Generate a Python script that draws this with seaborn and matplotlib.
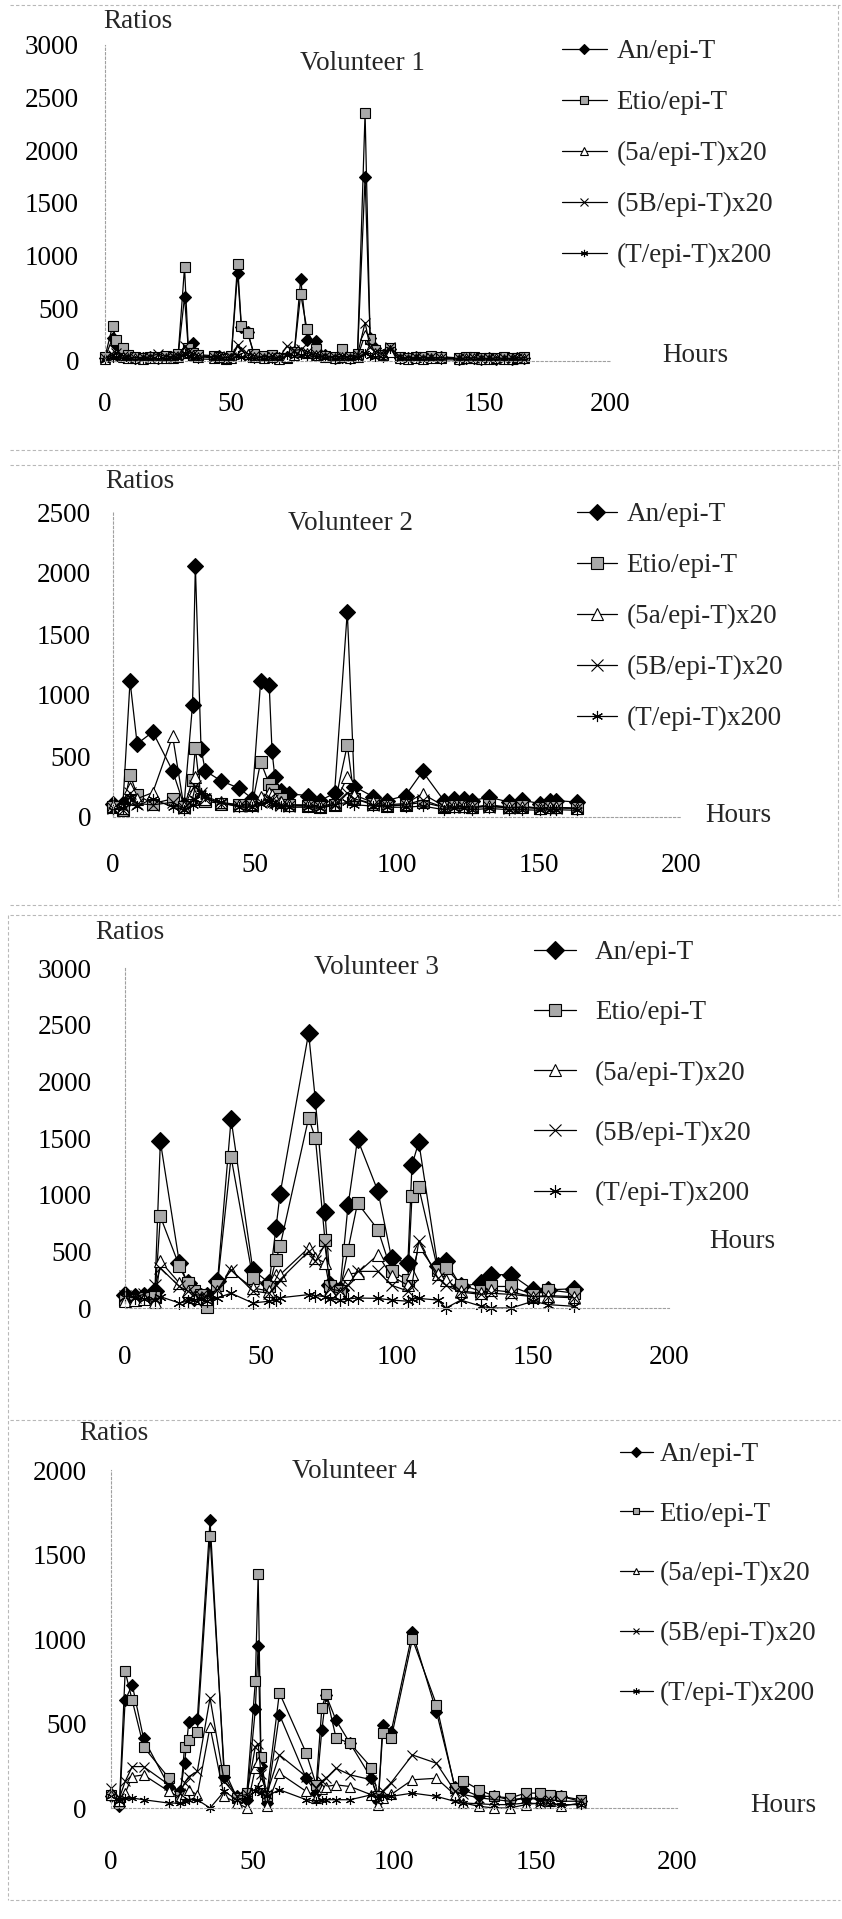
import matplotlib
matplotlib.use("Agg")
import matplotlib.pyplot as plt
import seaborn as sns
from matplotlib.lines import Line2D

# ---------------- data ----------------
series_names = ["An/epi-T", "Etio/epi-T", "(5a/epi-T)x20", "(5B/epi-T)x20", "(T/epi-T)x200"]
panel_titles = ["Volunteer 1", "Volunteer 2", "Volunteer 3", "Volunteer 4"]
x_ticks = [0, 50, 100, 150, 200]
y_ticks_v1 = [0, 500, 1000, 1500, 2000, 2500, 3000]
y_ticks_v2 = [0, 500, 1000, 1500, 2000, 2500]
y_ticks_v3 = [0, 500, 1000, 1500, 2000, 2500, 3000]
y_ticks_v4 = [0, 500, 1000, 1500, 2000]

# Volunteer 1
hours_v1 = [0, 3, 4.5, 7, 9, 12, 15, 18, 21, 24, 27, 29, 31.5, 33, 35, 37, 43, 45, 48, 50,
            52.5, 54, 56.5, 59, 63, 66, 69, 72, 75, 77.5, 80, 83.5, 87, 91, 94, 97, 100, 103, 105, 107,
            110, 113, 117, 120, 123, 126, 129, 133, 140, 143, 146, 149, 152, 155, 158, 161, 163, 166]
an_v1 = [30, 220, 150, 60, 40, 30, 25, 35, 30, 40, 35, 60, 610, 110, 175, 50, 40, 45, 30, 40,
         840, 320, 280, 60, 40, 50, 30, 40, 90, 780, 200, 190, 60, 30, 40, 30, 60, 1745, 220, 120,
         60, 110, 30, 30, 35, 30, 35, 40, 20, 25, 30, 20, 25, 20, 25, 20, 25, 30]
etio_v1 = [40, 333, 200, 127, 60, 40, 30, 40, 35, 45, 40, 70, 890, 120, 80, 60, 50, 40, 20, 45,
           920, 330, 263, 70, 50, 60, 30, 30, 90, 635, 300, 110, 50, 40, 110, 40, 70, 2355, 206, 100,
           60, 120, 35, 30, 40, 35, 45, 40, 30, 35, 40, 30, 25, 30, 35, 25, 30, 40]
a5_v1 = [20, 50, 70, 40, 30, 25, 20, 30, 25, 30, 30, 40, 100, 80, 60, 40, 30, 35, 25, 30,
         110, 90, 70, 40, 30, 35, 20, 40, 60, 90, 80, 60, 40, 30, 35, 25, 40, 250, 120, 80,
         60, 90, 25, 20, 25, 20, 25, 30, 20, 25, 25, 20, 20, 25, 20, 20, 25, 25]
b5_v1 = [30, 60, 80, 50, 40, 30, 35, 40, 70, 40, 45, 50, 140, 90, 70, 50, 40, 45, 30, 40,
         150, 100, 70, 50, 40, 45, 30, 140, 100, 110, 90, 70, 50, 40, 45, 40, 60, 365, 130, 90,
         70, 130, 35, 30, 35, 30, 35, 30, 25, 30, 30, 25, 25, 30, 25, 25, 30, 30]
t_v1 = [10, 30, 40, 20, 15, 10, 15, 20, 15, 20, 20, 30, 80, 50, 30, 20, 15, 20, 10, 15,
        60, 40, 30, 20, 15, 20, 10, 60, 50, 60, 50, 40, 25, 15, 20, 15, 30, 80, 50, 40,
        30, 110, 15, 10, 15, 10, 15, 12, 10, 12, 12, 10, 10, 12, 10, 10, 12, 12]

# Volunteer 2
hours_v2 = [0, 3.5, 6, 8.5, 14, 21, 25, 28, 29, 31, 32.5, 38, 44.5, 49, 52, 55, 56, 57, 59, 62,
            68.5, 73, 78, 82.5, 85, 91.5, 96.5, 103, 109, 116.5, 120, 123.5, 126.5, 132.5, 139.5,
            144, 150.5, 154, 156, 163.5]
an_v2 = [108, 108, 1113, 600, 697, 378, 95, 919, 2060, 560, 378, 297, 235, 150, 1116, 1081, 540,
         324, 216, 190, 176, 135, 195, 1684, 249, 168, 135, 176, 373, 135, 149, 149, 135, 162, 122,
         140, 108, 130, 135, 122]
etio_v2 = [80, 60, 346, 180, 110, 149, 80, 300, 567, 150, 130, 110, 100, 100, 454, 270, 220, 180,
           150, 100, 90, 80, 100, 590, 150, 110, 90, 100, 120, 80, 90, 90, 80, 100, 80, 90, 70, 80,
           80, 70]
a5_v2 = [90, 70, 240, 150, 200, 662, 80, 200, 324, 180, 150, 120, 100, 110, 160, 200, 180, 150,
         120, 100, 100, 90, 110, 324, 180, 120, 100, 110, 190, 90, 90, 90, 80, 90, 80, 80, 70, 80,
         80, 70]
b5_v2 = [70, 60, 200, 110, 100, 120, 70, 150, 250, 200, 150, 110, 90, 90, 120, 150, 140, 120,
         100, 90, 90, 80, 100, 200, 150, 100, 90, 100, 140, 80, 80, 85, 80, 85, 75, 80, 70, 75,
         75, 70]
t_v2 = [60, 70, 160, 90, 150, 80, 60, 100, 150, 200, 170, 120, 80, 80, 110, 130, 110, 100, 90,
        80, 80, 70, 100, 120, 100, 90, 80, 80, 90, 60, 70, 70, 60, 70, 60, 60, 55, 60, 60, 55]

# Volunteer 3
hours_v3 = [0, 3.5, 7, 11, 13, 20, 23, 25.5, 28, 30, 34, 39, 47, 53, 55.5, 57, 67.5, 70, 73.5,
            75.5, 79, 82, 85.5, 93, 98, 104, 105.5, 108, 115, 118, 123.5, 131, 134.5, 142, 150,
            155.5, 165]
an_v3 = [118, 100, 110, 147, 1470, 397, 220, 100, 100, 110, 235, 1667, 338, 220, 705, 1005, 2426,
         1832, 847, 205, 160, 905, 1490, 1030, 440, 397, 1260, 1465, 368, 412, 190, 220, 294, 294,
         160, 160, 170]
etio_v3 = [73, 73, 88, 100, 808, 368, 220, 147, 118, 6, 205, 1332, 265, 190, 426, 544, 1676, 1500,
           603, 190, 147, 515, 926, 691, 323, 250, 985, 1065, 338, 353, 205, 147, 190, 190, 118,
           160, 132]
a5_v3 = [60, 70, 80, 50, 412, 220, 150, 100, 90, 80, 150, 323, 176, 150, 294, 294, 530, 440, 400,
         150, 130, 300, 309, 470, 280, 200, 300, 544, 300, 250, 150, 130, 160, 140, 100, 110, 100]
b5_v3 = [110, 100, 120, 200, 353, 190, 150, 120, 110, 100, 160, 338, 150, 130, 200, 250, 500, 412,
         560, 170, 150, 200, 323, 323, 200, 150, 200, 588, 265, 200, 140, 120, 130, 120, 100, 100, 90]
t_v3 = [100, 90, 80, 70, 100, 44, 60, 70, 80, 60, 90, 130, 44, 60, 70, 90, 118, 110, 100, 80, 70,
        80, 88, 85, 70, 60, 80, 85, 70, 0, 70, 15, 0, 0, 60, 30, 15]

# Volunteer 4
hours_v4 = [0, 3, 5, 7.5, 11.5, 20.5, 24.5, 26, 27.5, 30.5, 35, 40, 44.5, 48, 51, 52, 53, 55,
            59.5, 69, 72.5, 74.5, 76, 79.5, 84.5, 92, 94.5, 96, 99, 106.5, 115, 121.5, 124.5, 130,
            135.5, 141, 146.5, 151.5, 155, 159, 166]
an_v4 = [70, 10, 637, 730, 412, 127, 98, 265, 510, 525, 1702, 186, 69, 49, 584, 961, 250, 29, 553,
         176, 88, 461, 667, 520, 382, 176, 39, 494, 451, 1039, 569, 127, 108, 69, 69, 49, 59, 59,
         69, 69, 39]
etio_v4 = [78, 29, 808, 637, 363, 176, 69, 363, 400, 451, 1608, 225, 60, 88, 749, 1382, 300, 69,
           682, 324, 137, 592, 676, 416, 382, 239, 69, 441, 412, 1000, 612, 118, 161, 108, 69, 59,
           88, 88, 78, 69, 49]
a5_v4 = [78, 40, 88, 186, 196, 98, 60, 80, 108, 78, 480, 69, 30, 0, 235, 275, 150, 10, 206, 98,
         60, 110, 127, 137, 127, 78, 20, 60, 80, 167, 176, 78, 30, 10, 0, 0, 20, 30, 40, 10, 30]
b5_v4 = [118, 60, 157, 245, 245, 137, 90, 150, 186, 216, 651, 157, 69, 80, 363, 380, 200, 80, 314,
         186, 120, 160, 176, 235, 196, 167, 60, 100, 150, 314, 265, 100, 80, 60, 50, 40, 60, 50,
         50, 40, 40]
t_v4 = [69, 40, 59, 59, 49, 29, 29, 40, 50, 49, 0, 98, 49, 59, 98, 127, 90, 69, 108, 49, 39, 45,
        49, 49, 49, 78, 60, 69, 69, 88, 69, 39, 30, 25, 20, 20, 30, 25, 25, 20, 20]

panels_data = [
    (hours_v1, [an_v1, etio_v1, a5_v1, b5_v1, t_v1], y_ticks_v1),
    (hours_v2, [an_v2, etio_v2, a5_v2, b5_v2, t_v2], y_ticks_v2),
    (hours_v3, [an_v3, etio_v3, a5_v3, b5_v3, t_v3], y_ticks_v3),
    (hours_v4, [an_v4, etio_v4, a5_v4, b5_v4, t_v4], y_ticks_v4),
]

# ---------------- styling / layout ----------------
sns.set_theme(style="white")
plt.rcParams["font.family"] = ["Liberation Serif", "DejaVu Serif"]

W, H = 842, 1919
fig = plt.figure(figsize=(W / 100, H / 100), dpi=100)
fig.patch.set_facecolor("white")

marker_styles = [
    dict(marker="D", markerfacecolor="black"),
    dict(marker="s", markerfacecolor="#a9a9a9"),
    dict(marker="^", markerfacecolor="white"),
    dict(marker="x", markerfacecolor="black"),
    dict(marker=(6, 2, 0), markerfacecolor="black"),
]

# pixel layout per panel
layout = [
    dict(l=105, r=610, t=45, b=361, ms=6.5, leg=(562, 39), hl=1.65, htp=0.36, ls=0.96, mscale=0.8,
         title=(362, 63), ratios=(103, 22), hours=(695, 355), ypad=18.7, xpad=22.0),
    dict(l=113, r=681, t=512, b=817, ms=8.0, leg=(577, 502), hl=1.46, htp=0.36, ls=0.96, mscale=1.0,
         title=(350, 523), ratios=(105, 482), hours=(738, 815), ypad=15.8, xpad=26.0),
    dict(l=125, r=669, t=968, b=1308, ms=9.0, leg=(534, 940), hl=1.55, htp=0.70, ls=1.30, mscale=1.0,
         title=(376, 967), ratios=(95, 932), hours=(742, 1242), ypad=23.8, xpad=26.3),
    dict(l=111, r=677, t=1470, b=1808, ms=6.5, leg=(620, 1442), hl=1.20, htp=0.25, ls=1.28, mscale=0.75,
         title=(354, 1472), ratios=(79, 1433), hours=(783, 1805), ypad=17.3, xpad=30.0),
]

FS = 19.5

def fx(px):
    return px / W

def fy(py):
    return 1 - py / H

for (hours, series, yticks), title, lay in zip(panels_data, panel_titles, layout):
    ax = fig.add_axes([fx(lay["l"]), fy(lay["b"]), (lay["r"] - lay["l"]) / W, (lay["b"] - lay["t"]) / H])
    ax.set_facecolor("white")
    for name, vals, st in zip(series_names, series, marker_styles):
        sns.lineplot(x=hours, y=vals, ax=ax, color="black", linewidth=0.9,
                     marker=st["marker"], markersize=lay["ms"],
                     markerfacecolor=st["markerfacecolor"], markeredgecolor="black",
                     markeredgewidth=0.8, clip_on=False, label=name, legend=False,
                     errorbar=None, sort=False)
    ax.set_xlim(0, 200)
    ax.set_ylim(0, yticks[-1])
    ax.set_xticks(x_ticks)
    ax.set_yticks(yticks)
    ax.set_xticklabels([str(v) for v in x_ticks], fontsize=FS)
    ax.set_yticklabels([str(v) for v in yticks], fontsize=FS)
    ax.tick_params(axis="x", length=0, pad=lay["xpad"], colors="black")
    ax.tick_params(axis="y", length=0, pad=lay["ypad"], colors="black")
    ax.set_xlabel("")
    ax.set_ylabel("")
    ax.grid(False)
    for side in ["top", "right"]:
        ax.spines[side].set_visible(False)
    for side in ["left", "bottom"]:
        ax.spines[side].set_color("#a0a0a0")
        ax.spines[side].set_linewidth(0.8)
        ax.spines[side].set_linestyle((0, (2, 2)))

    ax.legend(handles=ax.lines[:5], labels=series_names, loc="upper left",
              bbox_to_anchor=(fx(lay["leg"][0]), fy(lay["leg"][1])),
              bbox_transform=fig.transFigure, frameon=False, fontsize=FS,
              borderpad=0, borderaxespad=0, handlelength=lay["hl"],
              handletextpad=lay["htp"], labelspacing=lay["ls"], markerscale=lay["mscale"])

    fig.text(fx(lay["title"][0]), fy(lay["title"][1]), title, ha="center", va="center", fontsize=FS)
    fig.text(fx(lay["ratios"][0]), fy(lay["ratios"][1]), "Ratios", ha="left", va="center", fontsize=FS)
    fig.text(fx(lay["hours"][0]), fy(lay["hours"][1]), "Hours", ha="center", va="center", fontsize=FS)

# faint scanned panel borders
border_kw = dict(color="#b8b8b8", linewidth=0.8, linestyle=(0, (3, 2)), transform=fig.transFigure)
for y in [5, 450, 465, 905, 915, 1420, 1900]:
    fig.add_artist(Line2D([fx(10), fx(840)], [fy(y), fy(y)], **border_kw))
fig.add_artist(Line2D([fx(838), fx(838)], [fy(5), fy(900)], **border_kw))
fig.add_artist(Line2D([fx(8), fx(8)], [fy(915), fy(1900)], **border_kw))

fig.savefig("out.png", dpi=100, facecolor="white")
